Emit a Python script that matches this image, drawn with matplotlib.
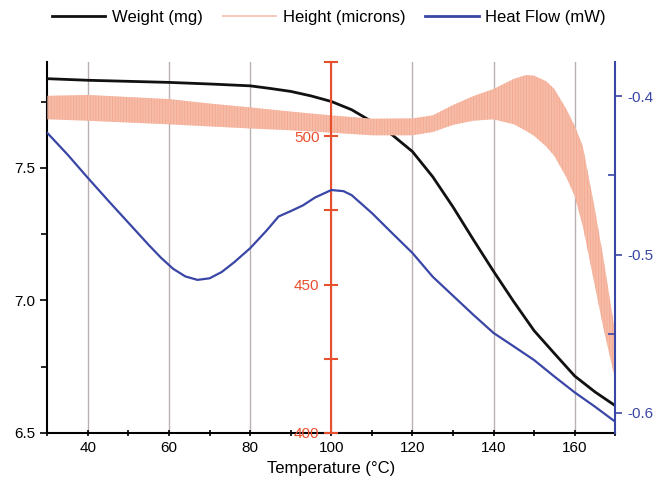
import numpy as np
import matplotlib.pyplot as plt
from matplotlib.ticker import MultipleLocator

plt.rcParams['font.family'] = ['Liberation Sans', 'DejaVu Sans']
plt.rcParams['hatch.linewidth'] = 0.6

# weight (mg)
temp_w = [30, 40, 50, 60, 70, 80, 85, 90, 95, 100, 105, 110, 115, 120, 125,
          130, 135, 140, 145, 150, 155, 160, 165, 170]
weight = [7.837, 7.831, 7.827, 7.823, 7.817, 7.81, 7.80, 7.789, 7.772, 7.751,
          7.72, 7.675, 7.625, 7.562, 7.467, 7.353, 7.23, 7.11, 6.995, 6.886,
          6.80, 6.715, 6.655, 6.603]

# heat flow (mW), blue curve
temp_h = [30, 35, 40, 45, 50, 55, 58, 61, 64, 67, 70, 73, 76, 80, 84, 87, 90,
          93, 96, 100, 103, 105, 110, 115, 120, 125, 130, 135, 140, 145, 150,
          155, 160, 165, 170]
heat = [-0.4233, -0.437, -0.4517, -0.466, -0.480, -0.494, -0.502, -0.509,
        -0.5138, -0.516, -0.515, -0.511, -0.505, -0.496, -0.485, -0.476,
        -0.4726, -0.469, -0.464, -0.4593, -0.460, -0.4625, -0.4738, -0.4865,
        -0.499, -0.514, -0.526, -0.538, -0.5495, -0.558, -0.5666, -0.577,
        -0.587, -0.596, -0.6055]

# height (microns), oscillating band: upper and lower envelope
temp_z = [30, 40, 50, 60, 70, 80, 90, 100, 110, 120, 125, 130, 135, 140, 145,
          148, 150, 153, 155, 158, 160, 162, 165, 167, 170]
height_hi = [513.6, 513.9, 513.2, 512.5, 511.0, 509.7, 508.3, 507.0, 505.9,
             506.0, 507.0, 510.5, 513.5, 515.9, 519.3, 520.6, 520.4, 518.5,
             515.9, 509.0, 503.5, 496.7, 475.3, 459.6, 433.8]
height_lo = [505.7, 505.2, 504.6, 504.0, 503.3, 502.6, 502.0, 501.2, 500.3,
             500.3, 501.4, 503.8, 505.2, 505.7, 504.0, 501.8, 500.1, 496.5,
             493.3, 486.0, 479.8, 469.7, 449.4, 435.9, 417.9]

black = '#111111'
red = '#e8502d'
band = '#f7bca8'
blue = '#3a46a6'

fig = plt.figure(figsize=(6.58, 4.92), dpi=100)
ax = fig.add_axes([0.072, 0.12, 0.863, 0.754])
ax_z = ax.twinx()
ax_h = ax.twinx()

# grid lines at major x ticks
for t in range(40, 170, 20):
    ax.axvline(t, color='#b9b1b1', lw=1, zorder=0)

ax.plot(temp_w, weight, color=black, lw=2, zorder=5)
ax.set_xlim(30, 170)
ax.set_ylim(6.5, 7.9)
ax.set_yticks([6.5, 7.0, 7.5])
ax.set_yticklabels(['6.5', '7.0', '7.5'])
ax.yaxis.set_minor_locator(MultipleLocator(0.25))
ax.set_xticks(range(40, 170, 20))
ax.xaxis.set_minor_locator(MultipleLocator(10))
ax.tick_params(axis='both', labelsize=11, width=1.2, length=5)
ax.tick_params(axis='x', direction='inout', which='both')
ax.tick_params(axis='y', which='minor', length=4, width=1.2)
ax.tick_params(axis='x', which='minor', length=5, width=1.2)
ax.spines['top'].set_visible(False)
ax.spines['right'].set_visible(False)
ax.spines['left'].set_linewidth(1.5)
ax.spines['bottom'].set_linewidth(1.5)
ax.set_xlabel('Temperature (°C)', fontsize=12)

# height band on the axis placed at 100 °C
ax_z.fill_between(temp_z, height_lo, height_hi, facecolor=band, edgecolor='#f3a990',
                  hatch='||||||', lw=0)
ax_z.set_ylim(400, 525)
ax_z.spines['right'].set_visible(False)
ax_z.spines['top'].set_visible(False)
ax_z.spines['bottom'].set_visible(False)
ax_z.spines['left'].set_visible(True)
ax_z.spines['left'].set_position(('data', 100))
ax_z.spines['left'].set_color(red)
ax_z.spines['left'].set_linewidth(1.5)
ax_z.yaxis.set_ticks_position('left')
ax_z.yaxis.set_label_position('left')
ax_z.set_yticks([400, 450, 500])
ax_z.yaxis.set_minor_locator(MultipleLocator(25))
ax_z.tick_params(axis='y', which='both', direction='inout', colors=red,
                 labelsize=11, length=10, width=1.5)

ax_h.plot(temp_h, heat, color=blue, lw=1.6)
ax_h.set_ylim(-0.6126, -0.3785)
ax_h.set_yticks([-0.6, -0.5, -0.4])
ax_h.set_yticklabels(['-0.6', '-0.5', '-0.4'])
ax_h.yaxis.set_minor_locator(MultipleLocator(0.05))
for s in ['top', 'left', 'bottom']:
    ax_h.spines[s].set_visible(False)
ax_h.spines['right'].set_color(blue)
ax_h.spines['right'].set_linewidth(1.5)
ax_h.tick_params(axis='y', which='major', colors=blue, labelsize=11, length=5, width=1.2)
ax_h.tick_params(axis='y', which='minor', colors=blue, direction='in', length=5, width=1.2)

handles = [plt.Line2D([], [], color=black, lw=2),
           plt.Line2D([], [], color='#f7c9bb', lw=1.5),
           plt.Line2D([], [], color=blue, lw=2)]
fig.legend(handles, ['Weight (mg)', 'Height (microns)', 'Heat Flow (mW)'],
           loc='upper center', bbox_to_anchor=(0.5, 1.01), ncol=3, frameon=False,
           fontsize=12, handlelength=3.2, columnspacing=1.2, handletextpad=0.4)

fig.savefig('out.png', dpi=100)
